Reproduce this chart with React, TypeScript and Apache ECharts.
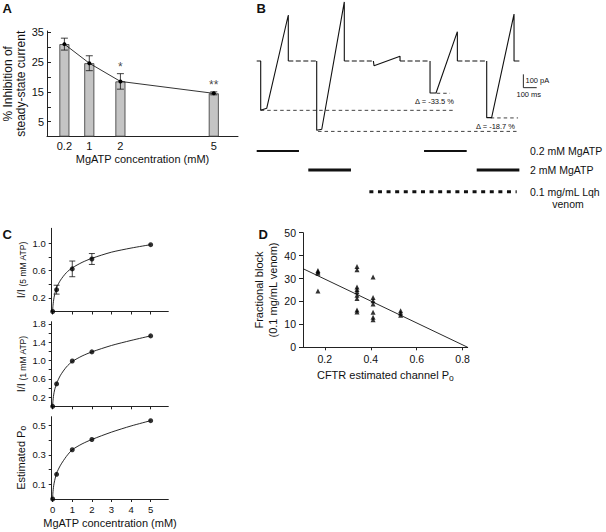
import React, { useEffect, useRef } from "react";
import * as echarts from "echarts";

const FONT = "'Liberation Sans', Arial, Helvetica, sans-serif";
const INK = "#111";
const AXIS = "#222";

// ---------- Panel A ----------
const aConc = [0.2, 1, 2, 5];
const aInhibition = [31, 24.6, 18.5, 14.5];
const aSem = [2, 2.5, 2.6, 0.5];
const aSignif = ["", "", "*", "**"];
const aXTicks = [0.2, 1, 2, 5];
const aYTicks = [0, 5, 10, 15, 20, 25, 30, 35];
const aYLabels = [5, 15, 25, 35];

// ---------- Panel B (time in ms, current in pA, baseline = 0) ----------
const bTrace1 = [[0, 0], [30, 0], [30, -370], [75, -355], [237, 345], [237, 0]];
const bTrace2 = [[450, 0], [450, -520], [488, -512], [657, 443], [657, 0]];
const bTrace3 = [[875, 0], [880, -35], [1075, 35], [1075, 0]];
const bTrace4 = [[1300, 0], [1300, -240], [1345, -240], [1505, 220], [1505, 0]];
const bTrace5 = [[1725, 0], [1725, -425], [1762, -425], [1930, 352], [1930, 0], [1970, 0]];
const bBaselineGaps = [[237, 450], [657, 875], [1075, 1300], [1505, 1725]];
// [level pA, from ms, to ms]
const bRefLines = [[-370, 30, 1487], [-528, 460, 1962], [-242, 1350, 1450], [-427, 1755, 1960]];
const bDeltas = ["\u0394 = -33.5 %", "\u0394 = -18.7 %"];
const bScaleBar = [[2000, -100], [2000, -200], [2100, -200]];
const bScaleLabels = ["100 pA", "100 ms"];
const bMgATP02 = [[0, 317], [1255, 1575]];
const bMgATP2 = [[387, 707], [1650, 1970]];
const bVenom = [[845, 1950]];
const bDrugLabels = ["0.2 mM MgATP", "2 mM MgATP", "0.1 mg/mL Lqh", "venom"];

// ---------- Panel C ----------
const cConc = [0, 0.2, 1, 2, 5];
const c1Mean = [0, 0.32, 0.625, 0.77, 0.98];
const c1Sem = [0, 0.065, 0.115, 0.08, 0];
const c2Mean = [0, 0.49, 0.99, 1.19, 1.54];
const c3Po = [0, 0.168, 0.335, 0.405, 0.533];
const cFitX = [0, 0.01, 0.05, 0.1, 0.2, 0.4, 0.7, 1, 1.5, 2, 3, 4, 5];
const c1Fit = [0, 0.07, 0.17, 0.25, 0.35, 0.46, 0.57, 0.64, 0.72, 0.78, 0.87, 0.93, 0.98];
const c2Fit = [0, 0.1, 0.25, 0.36, 0.5, 0.68, 0.86, 0.98, 1.1, 1.19, 1.33, 1.44, 1.54];
const c3Fit = [0, 0.04, 0.09, 0.125, 0.175, 0.23, 0.29, 0.335, 0.375, 0.405, 0.455, 0.497, 0.533];
const cXTicks = [0, 1, 2, 3, 4, 5];

// ---------- Panel D ----------
const dPo = [0.17, 0.34, 0.41, 0.53];
const dBlock = [
  [33.5, 33, 32.3, 24.6],
  [35.3, 33.8, 26.3, 25.2, 24.2, 22.7, 21.3, 16.3, 15.4],
  [30.7, 21.7, 20.3, 18.9, 15.3, 13.1, 12],
  [16, 15, 14],
];
const dFit = [[0.105, 34.3], [0.822, 0]];
const dXTicks = [0.2, 0.4, 0.6, 0.8];
const dYTicks = [0, 10, 20, 30, 40, 50];

function errRender(capHalf: number) {
  return (params: any, api: any) => {
    const x = api.value(0);
    const lo = api.value(1);
    const hi = api.value(2);
    if (hi - lo <= 0) return { type: "group", children: [] };
    const pLo = api.coord([x, lo]);
    const pHi = api.coord([x, hi]);
    const style = { stroke: INK, lineWidth: 0.8 };
    return {
      type: "group",
      children: [
        { type: "line", shape: { x1: pLo[0], y1: pLo[1], x2: pHi[0], y2: pHi[1] }, style },
        { type: "line", shape: { x1: pLo[0] - capHalf, y1: pLo[1], x2: pLo[0] + capHalf, y2: pLo[1] }, style },
        { type: "line", shape: { x1: pHi[0] - capHalf, y1: pHi[1], x2: pHi[0] + capHalf, y2: pHi[1] }, style },
      ],
    };
  };
}

function lineS(data: any[], idx: number, width: number, type: any = "solid", extra: any = {}) {
  return {
    type: "line",
    xAxisIndex: idx,
    yAxisIndex: idx,
    data,
    symbol: "none",
    clip: false,
    silent: true,
    lineStyle: { color: INK, width, type },
    ...extra,
  };
}

const labelBase = { fontFamily: FONT, color: INK };
const lineBase = { show: true, onZero: false, lineStyle: { color: AXIS, width: 1 } };

export default function App() {
  const ref = useRef<HTMLDivElement>(null);
  useEffect(() => {
    if (!ref.current) return;
    const chart = echarts.init(ref.current, undefined, { renderer: "svg" });

    const grids = [
      { left: 45, top: 31, width: 193, height: 105.6 }, // A
      { left: 256.7, top: 0, width: 280, height: 200 }, // B
      { left: 51.7, top: 228.3, width: 116.6, height: 83.2 }, // C1
      { left: 51.7, top: 321.7, width: 116.6, height: 84.6 }, // C2
      { left: 51.7, top: 416.7, width: 116.6, height: 82.3 }, // C3
      { left: 303, top: 232.7, width: 164.7, height: 114.6 }, // D
    ];

    const cX = (gi: number, labels: boolean) => ({
      gridIndex: gi,
      type: "value",
      min: -0.05,
      max: 5.9,
      axisLine: lineBase,
      axisTick: { show: true, length: 3, customValues: cXTicks, lineStyle: { color: AXIS } },
      axisLabel: { show: labels, customValues: cXTicks, fontSize: 9.5, margin: 5, ...labelBase },
      splitLine: { show: false },
      ...(labels
        ? {
            name: "MgATP concentration (mM)",
            nameLocation: "middle",
            nameGap: 18,
            nameTextStyle: { fontSize: 11, ...labelBase },
          }
        : {}),
    });
    const subRich = {
      m: { fontSize: 11, fontFamily: FONT, color: INK },
      s: { fontSize: 8.5, fontFamily: FONT, color: INK, padding: [5, 0, 0, 0] },
    };
    const cY = (gi: number, max: number, ticks: number[], labels: number[], name: string) => ({
      gridIndex: gi,
      type: "value",
      min: 0,
      max,
      axisLine: lineBase,
      axisTick: { show: true, length: 3, customValues: ticks, lineStyle: { color: AXIS } },
      axisLabel: {
        customValues: labels,
        fontSize: 9.5,
        margin: 6,
        formatter: (v: number) => v.toFixed(1),
        ...labelBase,
      },
      splitLine: { show: false },
      name,
      nameLocation: "middle",
      nameGap: 24,
      nameTextStyle: { fontSize: 11, ...labelBase, rich: subRich },
    });

    const xAxis: any[] = [
      {
        gridIndex: 0,
        type: "value",
        min: -0.359,
        max: 5.778,
        axisLine: lineBase,
        axisTick: { show: false },
        axisLabel: { customValues: aXTicks, fontSize: 11, margin: 4, ...labelBase },
        splitLine: { show: false },
        name: "MgATP concentration (mM)",
        nameLocation: "middle",
        nameGap: 17,
        nameTextStyle: { fontSize: 11, ...labelBase },
      },
      { gridIndex: 1, type: "value", min: 0, max: 2100, show: false },
      cX(2, false),
      cX(3, false),
      cX(4, true),
      {
        gridIndex: 5,
        type: "value",
        min: 0.105,
        max: 0.822,
        axisLine: lineBase,
        axisTick: { show: true, length: 3, customValues: dXTicks, lineStyle: { color: AXIS } },
        axisLabel: { customValues: dXTicks, fontSize: 10.5, margin: 6, ...labelBase },
        splitLine: { show: false },
        name: "CFTR estimated channel P{s|o}",
        nameLocation: "middle",
        nameGap: 21,
        nameTextStyle: { fontSize: 11, ...labelBase, rich: subRich },
      },
    ];

    const yAxis: any[] = [
      {
        gridIndex: 0,
        type: "value",
        min: 0,
        max: 35.4,
        axisLine: lineBase,
        axisTick: { show: true, inside: true, length: 4, customValues: aYTicks, lineStyle: { color: AXIS } },
        axisLabel: { customValues: aYLabels, fontSize: 11, margin: 3, ...labelBase },
        splitLine: { show: false },
        name: "% Inhibition of\nsteady-state current",
        nameLocation: "middle",
        nameGap: 20,
        nameTextStyle: { fontSize: 12, lineHeight: 13, ...labelBase },
      },
      { gridIndex: 1, type: "value", min: -1042.5, max: 457.5, show: false },
      cY(2, 1.22, [0.2, 0.4, 0.6, 0.8, 1.0], [0.2, 0.6, 1.0], "{m|I/I}{s| (5 mM ATP)}"),
      cY(3, 1.85, [0.2, 0.4, 0.6, 0.8, 1.0, 1.2, 1.4, 1.6, 1.8], [0.2, 0.6, 1.0, 1.4, 1.8], "{m|I/I}{s| (1 mM ATP)}"),
      cY(4, 0.56, [0.1, 0.2, 0.3, 0.4, 0.5], [0.1, 0.3, 0.5], "{m|Estimated P}{s|o}"),
      {
        gridIndex: 5,
        type: "value",
        min: 0,
        max: 50,
        axisLine: lineBase,
        axisTick: { show: true, length: 4, customValues: dYTicks, lineStyle: { color: AXIS } },
        axisLabel: { customValues: dYTicks, fontSize: 10.5, margin: 7, ...labelBase },
        splitLine: { show: false },
        name: "Fractional block\n(0.1 mg/mL venom)",
        nameLocation: "middle",
        nameGap: 20,
        nameTextStyle: { fontSize: 11, lineHeight: 14, ...labelBase },
      },
    ];

    const series: any[] = [];

    // ---- A ----
    const aPts = aConc.map((c, i) => [c, aInhibition[i]]);
    series.push({
      type: "bar",
      xAxisIndex: 0,
      yAxisIndex: 0,
      data: aPts,
      barWidth: 10,
      itemStyle: { color: "#c4c4c4", borderColor: "#333", borderWidth: 0.8 },
      silent: true,
      z: 2,
    });
    series.push({
      type: "custom",
      xAxisIndex: 0,
      yAxisIndex: 0,
      data: aConc.map((c, i) => [c, aInhibition[i] - aSem[i], aInhibition[i] + aSem[i]]),
      encode: { x: 0, y: [1, 2] },
      renderItem: errRender(3.5),
      silent: true,
      z: 3,
    });
    series.push({
      type: "line",
      xAxisIndex: 0,
      yAxisIndex: 0,
      data: aPts,
      symbol: "circle",
      symbolSize: 4,
      itemStyle: { color: "#000" },
      lineStyle: { color: "#000", width: 0.8 },
      silent: true,
      z: 4,
    });
    series.push({
      type: "scatter",
      xAxisIndex: 0,
      yAxisIndex: 0,
      data: aConc
        .map((c, i) => [c, aInhibition[i] + aSem[i], aSignif[i]])
        .filter((d) => d[2] !== ""),
      symbolSize: 0,
      silent: true,
      label: {
        show: true,
        position: "top",
        distance: 1,
        formatter: (p: any) => p.value[2],
        fontSize: 12,
        ...labelBase,
      },
      z: 5,
    });

    // ---- B ----
    [bTrace1, bTrace2, bTrace3, bTrace4, bTrace5].forEach((t) => series.push(lineS(t, 1, 1.1)));
    bBaselineGaps.forEach((g) => series.push(lineS([[g[0], 0], [g[1], 0]], 1, 1.1, [5, 2.5])));
    bRefLines.forEach((r) => series.push(lineS([[r[1], r[0]], [r[2], r[0]]], 1, 0.8, [3.5, 3])));
    series.push(lineS(bScaleBar, 1, 0.9));
    bMgATP02.forEach((s) => series.push(lineS([[s[0], -675], [s[1], -675]], 1, 2)));
    bMgATP2.forEach((s) => series.push(lineS([[s[0], -817], [s[1], -817]], 1, 3)));
    bVenom.forEach((s) => series.push(lineS([[s[0], -980], [s[1], -980]], 1, 3, [4, 4.6])));

    // ---- C ----
    const cPanels = [
      { idx: 2, pts: c1Mean, fit: c1Fit },
      { idx: 3, pts: c2Mean, fit: c2Fit },
      { idx: 4, pts: c3Po, fit: c3Fit },
    ];
    cPanels.forEach((p) => {
      series.push({
        ...lineS(cFitX.map((x, i) => [x, p.fit[i]]), p.idx, 0.9),
        smooth: 0.25,
      });
      series.push({
        type: "scatter",
        xAxisIndex: p.idx,
        yAxisIndex: p.idx,
        data: cConc.map((c, i) => [c, p.pts[i]]),
        symbol: "circle",
        symbolSize: 5,
        itemStyle: { color: "#000" },
        clip: false,
        silent: true,
        z: 4,
      });
    });
    series.push({
      type: "custom",
      xAxisIndex: 2,
      yAxisIndex: 2,
      data: cConc.map((c, i) => [c, c1Mean[i] - c1Sem[i], c1Mean[i] + c1Sem[i]]),
      encode: { x: 0, y: [1, 2] },
      renderItem: errRender(3),
      silent: true,
      z: 3,
    });

    // ---- D ----
    const dPts: number[][] = [];
    dPo.forEach((x, i) => dBlock[i].forEach((y) => dPts.push([x, y])));
    series.push({
      type: "scatter",
      xAxisIndex: 5,
      yAxisIndex: 5,
      data: dPts,
      symbol: "triangle",
      symbolSize: 5,
      itemStyle: { color: "#000" },
      silent: true,
      z: 4,
    });
    series.push(lineS(dFit, 5, 0.9));

    const txt = (x: number, y: number, text: string, size: number, extra: any = {}) => ({
      type: "text",
      x,
      y,
      silent: true,
      style: {
        text,
        fontSize: size,
        fontFamily: FONT,
        fill: INK,
        align: "left",
        verticalAlign: "middle",
        ...extra,
      },
    });

    const graphic: any[] = [
      txt(2.5, 8, "A", 13, { fontWeight: "bold" }),
      txt(256.5, 8.5, "B", 13, { fontWeight: "bold" }),
      txt(2.5, 234.5, "C", 13, { fontWeight: "bold" }),
      txt(258.5, 234.5, "D", 13, { fontWeight: "bold" }),
      txt(415, 101.5, bDeltas[0], 7.5),
      txt(476, 126, bDeltas[1], 7.5),
      txt(525.5, 80.5, bScaleLabels[0], 7.5),
      txt(516.5, 94, bScaleLabels[1], 7.5),
      txt(530, 151, bDrugLabels[0], 10.5),
      txt(530, 170, bDrugLabels[1], 10.5),
      txt(530, 191.5, bDrugLabels[2], 10.5),
      txt(568, 203.5, bDrugLabels[3], 10.5, { align: "center" }),
    ];

    chart.setOption({
      animation: false,
      backgroundColor: "#fff",
      textStyle: { fontFamily: FONT },
      grid: grids,
      xAxis,
      yAxis,
      series,
      graphic,
    });
    return () => chart.dispose();
  }, []);

  return (
    <div
      ref={ref}
      style={{ position: "fixed", left: 0, top: 0, width: 606, height: 532, background: "#fff" }}
    />
  );
}
